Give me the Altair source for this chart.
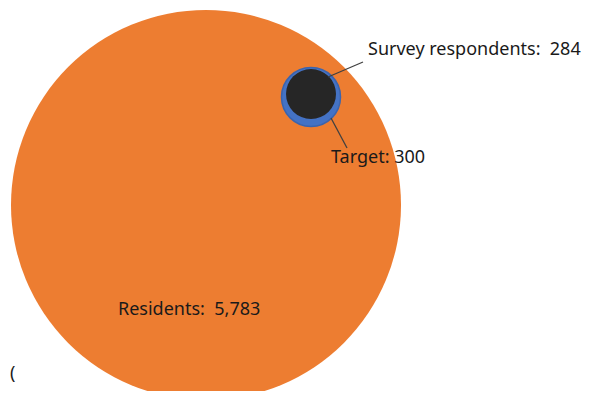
import altair as alt
import pandas as pd

# Circles (page-pixel coordinate system)
labels = ["Residents", "Target", "Survey respondents"]
values = [5783, 300, 284]
cx = [206, 311, 311]
cy = [205, 97, 94]
colors = ["#ED7D31", "#4472C4", "#262626"]

# Annotation texts
text_labels = ["Survey respondents:\u00a0 284", "Target: 300", "Residents:\u00a0 5,783", "("]
tx = [368, 331, 118, 10]
ty = [50, 158, 310, 374]

# Leader lines
lx1 = [328, 331]
ly1 = [77, 118]
lx2 = [363, 347]
ly2 = [62, 148]

W, H = 573, 383
xs = alt.Scale(domain=[8, 8 + W], nice=False, zero=False)
ys = alt.Scale(domain=[8 + H, 8], nice=False, zero=False)

circles = pd.DataFrame({"label": labels, "value": values, "cx": cx, "cy": cy, "color": colors})
texts = pd.DataFrame({"t": text_labels, "x": tx, "y": ty})
lines = pd.DataFrame({"x": lx1, "y": ly1, "x2": lx2, "y2": ly2})

base_x = alt.X("cx:Q", scale=xs, axis=None)
base_y = alt.Y("cy:Q", scale=ys, axis=None)

circ = alt.Chart(circles).mark_point(filled=True, shape="circle", opacity=1).encode(
    x=base_x,
    y=base_y,
    size=alt.Size("value:Q", scale=alt.Scale(domain=[284, 300, 5783], range=[2500, 3481, 152100]), legend=None),
    color=alt.Color("color:N", scale=None),
    strokeWidth=alt.value(0),
    order=alt.Order("value:Q", sort="descending"),
)

blue_edge = alt.Chart(circles[circles["label"] == "Target"]).mark_point(
    filled=False, shape="circle", opacity=1, stroke="#3B64AD", strokeWidth=1.5
).encode(
    x=base_x,
    y=base_y,
    size=alt.value(3481),
)

rules = alt.Chart(lines).mark_rule(color="#404040", strokeWidth=1.3).encode(
    x=alt.X("x:Q", scale=xs, axis=None),
    y=alt.Y("y:Q", scale=ys, axis=None),
    x2="x2:Q",
    y2="y2:Q",
)

txt = alt.Chart(texts).mark_text(
    align="left", baseline="middle", font="Noto Sans", fontSize=18, color="#1a1a1a"
).encode(
    x=alt.X("x:Q", scale=xs, axis=None),
    y=alt.Y("y:Q", scale=ys, axis=None),
    text="t:N",
)

chart = alt.layer(circ, blue_edge, rules, txt).properties(
    width=W, height=H, padding=0, autosize=alt.AutoSizeParams(type="none")
).configure_view(stroke=None)

chart.save("out.html", embed_options={"renderer": "svg", "actions": False})
